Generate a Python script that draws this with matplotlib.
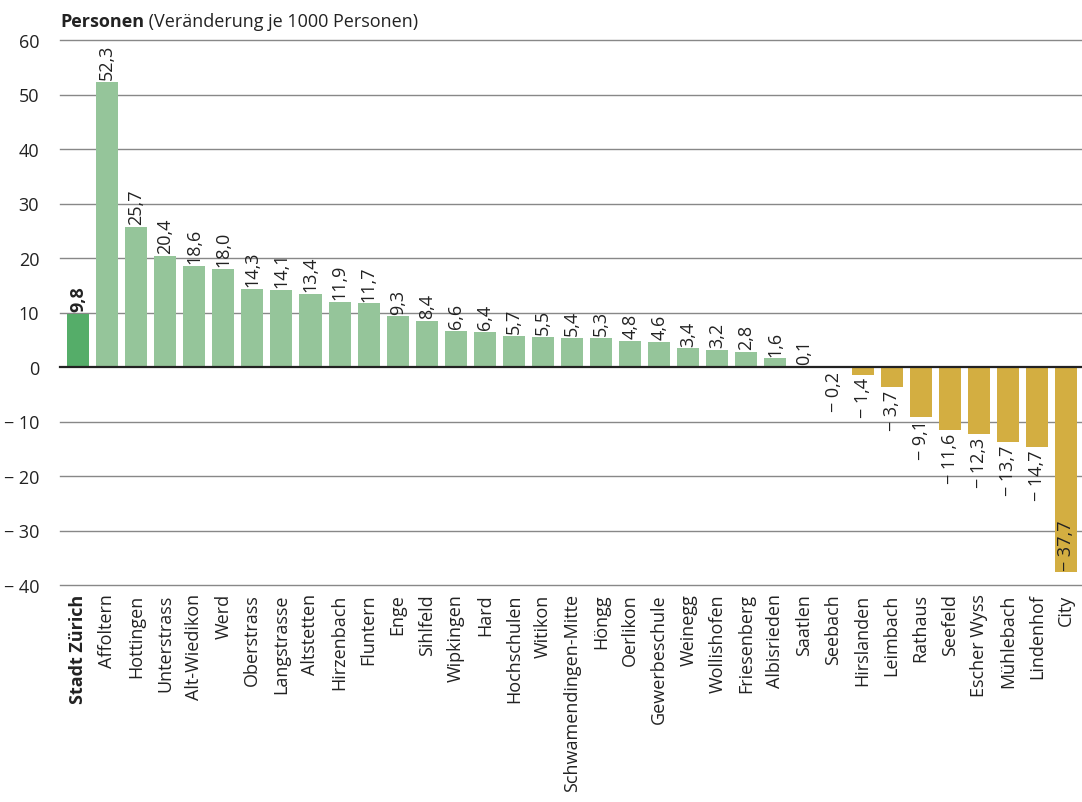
import matplotlib
matplotlib.use("Agg")
import matplotlib.pyplot as plt

plt.rcParams['font.family'] = ['Open Sans', 'DejaVu Sans']

districts = ["Stadt Zürich", "Affoltern", "Hottingen", "Unterstrass", "Alt-Wiedikon", "Werd",
             "Oberstrass", "Langstrasse", "Altstetten", "Hirzenbach", "Fluntern", "Enge",
             "Sihlfeld", "Wipkingen", "Hard", "Hochschulen", "Witikon", "Schwamendingen-Mitte",
             "Höngg", "Oerlikon", "Gewerbeschule", "Weinegg", "Wollishofen", "Friesenberg",
             "Albisrieden", "Saatlen", "Seebach", "Hirslanden", "Leimbach", "Rathaus",
             "Seefeld", "Escher Wyss", "Mühlebach", "Lindenhof", "City"]
values = [9.8, 52.3, 25.7, 20.4, 18.6, 18.0, 14.3, 14.1, 13.4, 11.9, 11.7, 9.3, 8.4, 6.6, 6.4,
          5.7, 5.5, 5.4, 5.3, 4.8, 4.6, 3.4, 3.2, 2.8, 1.6, 0.1, -0.2, -1.4, -3.7, -9.1,
          -11.6, -12.3, -13.7, -14.7, -37.7]
yticks = [-40, -30, -20, -10, 0, 10, 20, 30, 40, 50, 60]

c_total = "#55ad69"
c_pos = "#95c59a"
c_neg = "#d3ae41"
txt = "#222222"

def fmt(v):
    s = f"{abs(v):.1f}".replace(".", ",")
    return ("\u2212 " + s) if v < 0 else s

def fmt_tick(t):
    return ("\u2212 " + str(abs(t))) if t < 0 else str(t)

fig = plt.figure(figsize=(10.82, 8.03), dpi=100)
ax = fig.add_axes([60/1082, (803-586)/803, 1 - 60/1082, (586-41)/803])

n = len(values)
x = list(range(n))
colors = [c_total] + [c_pos if v >= 0 else c_neg for v in values[1:]]
ax.bar(x, values, width=0.76, color=colors, zorder=2)

ax.set_ylim(-40, 60)
ax.set_xlim(-0.62, n - 1 + 0.55)
ax.set_yticks(yticks)
ax.set_yticklabels([fmt_tick(t) for t in yticks], fontsize=13, color=txt)
for t in yticks:
    if t == 0:
        ax.axhline(t, color="#222222", lw=1.6, zorder=3, clip_on=False)
    else:
        ax.axhline(t, color="#888888", lw=1.0, zorder=1, clip_on=False)

ax.tick_params(axis='y', length=0, pad=15)
ax.tick_params(axis='x', length=0, pad=6)
ax.set_xticks(x)
ax.set_xticklabels(districts, rotation=90, fontsize=13, color=txt, va='top', ha='center')
ax.get_xticklabels()[0].set_fontweight('bold')
for s in ax.spines.values():
    s.set_visible(False)

for i, v in enumerate(values):
    bold = 'bold' if i == 0 else 'normal'
    if v >= 0:
        ax.text(i, v + 0.5, fmt(v), rotation=90, ha='center', va='bottom', fontsize=13,
                fontweight=bold, color=txt, zorder=4)
    elif v < -30:
        ax.text(i, v + 0.5, fmt(v), rotation=90, ha='center', va='bottom', fontsize=13,
                color=txt, zorder=4)
    else:
        ax.text(i, v - 0.5, fmt(v), rotation=90, ha='center', va='top', fontsize=13,
                color=txt, zorder=4)

t1 = fig.text(60/1082, 1 - 22/803, "Personen", fontsize=13, fontweight='bold', color=txt,
              ha='left', va='center')
fig.canvas.draw()
bb = t1.get_window_extent()
fig.text(bb.x1 / fig.bbox.width, 1 - 22/803, " (Veränderung je 1000 Personen)", fontsize=13,
         color=txt, ha='left', va='center')

fig.savefig("out.png", dpi=100)
